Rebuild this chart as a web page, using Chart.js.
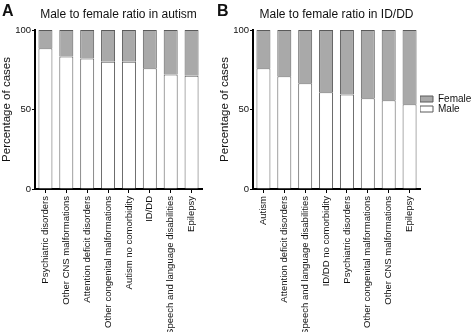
<!DOCTYPE html>
<html>
<head>
<meta charset="utf-8">
<script src="https://cdn.jsdelivr.net/npm/chart.js@4/dist/chart.umd.min.js"></script>
<style>
  body { margin: 0; background: #fff; overflow: hidden; }
  canvas { position: absolute; top: 0; }
  #chartA { left: 0; }
  #chartB { left: 216px; }
</style>
</head>
<body>
<canvas id="chartA" width="216" height="332"></canvas>
<canvas id="chartB" width="256" height="332"></canvas>
<script>
// panel A - autism
const labelsAutism = ['Psychiatric disorders', 'Other CNS malformations', 'Attention deficit disorders',
  'Other congenital malformations', 'Autism no comorbidity', 'ID/DD', 'Speech and language disabilities', 'Epilepsy'];
const maleAutism = [88.5, 83.4, 82, 80, 80, 76, 72, 71.3];
const femaleAutism = [11.5, 16.6, 18, 20, 20, 24, 28, 28.7];

// panel B - ID/DD
const labelsIDDD = ['Autism', 'Attention deficit disorders', 'Speech and language disabilities',
  'ID/DD no comorbidity', 'Psychiatric disorders', 'Other congenital malformations', 'Other CNS malformations', 'Epilepsy'];
const maleIDDD = [75.9, 70.9, 66.5, 60.8, 59.5, 57, 55.8, 53.3];
const femaleIDDD = [24.1, 29.1, 33.5, 39.2, 40.5, 43, 44.2, 46.7];

const yTicks = [0, 50, 100];

const fontFam = '"Liberation Sans", Arial, Helvetica, sans-serif';
Chart.defaults.font.family = fontFam;
Chart.defaults.color = '#111';

// draws the panel letter and the title above the plot area
const panelTitle = {
  id: 'panelTitle',
  afterLayout(chart) {
    // legend sits beside the upper half of the plot, not centred on the whole canvas
    if (chart.legend && chart.options.plugins.legend.display) {
      const h = chart.legend.bottom - chart.legend.top;
      chart.legend.top = 94;
      chart.legend.bottom = 94 + h;
    }
  },
  afterDraw(chart, args, opts) {
    const ctx = chart.ctx;
    const area = chart.chartArea;
    ctx.save();
    ctx.fillStyle = '#111';
    ctx.textBaseline = 'alphabetic';
    ctx.font = 'bold 16px ' + fontFam;
    ctx.textAlign = 'left';
    ctx.fillText(opts.letter, opts.letterX, 16);
    ctx.font = '12px ' + fontFam;
    ctx.textAlign = 'center';
    ctx.fillText(opts.text, (area.left + area.right) / 2, 17.5);
    ctx.restore();
  }
};

function makeConfig(labels, male, female, letter, title, showLegend, padLeft, letterX) {
  return {
    type: 'bar',
    data: {
      labels: labels,
      datasets: [{
        label: 'Male',
        data: male,
        backgroundColor: '#ffffff',
        borderColor: '#5a5a5a',
        borderWidth: 1
      }, {
        label: 'Female',
        data: female,
        backgroundColor: '#a9a9a9',
        borderColor: '#5a5a5a',
        borderWidth: 1
      }]
    },
    options: {
      responsive: false,
      animation: false,
      categoryPercentage: 1,
      barPercentage: 0.67,
      layout: { padding: { top: 30, left: padLeft, right: showLegend ? 0 : 14, bottom: 0 } },
      scales: {
        x: {
          stacked: true,
          border: { display: true, color: '#000', width: 2 },
          grid: { display: true, offset: false, drawOnChartArea: false, drawTicks: true, tickLength: 4, color: '#000', lineWidth: 1 },
          ticks: { autoSkip: false, minRotation: 90, maxRotation: 90, padding: 3, font: { size: 9.5 }, color: '#111' },
          afterFit(scale) { scale.height = 143; }
        },
        y: {
          stacked: true,
          min: 0,
          max: 100,
          afterBuildTicks(scale) { scale.ticks = yTicks.map(v => ({ value: v })); },
          border: { display: true, color: '#000', width: 2 },
          grid: { display: true, drawOnChartArea: false, drawTicks: true, tickLength: 3, color: '#000', lineWidth: 1 },
          ticks: { padding: 1, font: { size: 9.5 }, color: '#111' },
          title: { display: true, text: 'Percentage of cases', font: { size: 11.5 }, padding: 0, color: '#111' },
          afterFit(scale) { scale.width = 35; }
        }
      },
      plugins: {
        legend: {
          display: showLegend,
          position: 'right',
          align: 'start',
          reverse: true,
          maxWidth: 52,
          labels: { boxWidth: 13, boxHeight: 6, padding: 0, font: { size: 10 }, color: '#111' }
        },
        tooltip: { enabled: false },
        panelTitle: { letter: letter, text: title, letterX: letterX }
      }
    },
    plugins: [panelTitle]
  };
}

new Chart(document.getElementById('chartA'),
  makeConfig(labelsAutism, maleAutism, femaleAutism, 'A', 'Male to female ratio in autism', false, 0, 2));
new Chart(document.getElementById('chartB'),
  makeConfig(labelsIDDD, maleIDDD, femaleIDDD, 'B', 'Male to female ratio in ID/DD', true, 2, 1));
</script>
</body>
</html>
